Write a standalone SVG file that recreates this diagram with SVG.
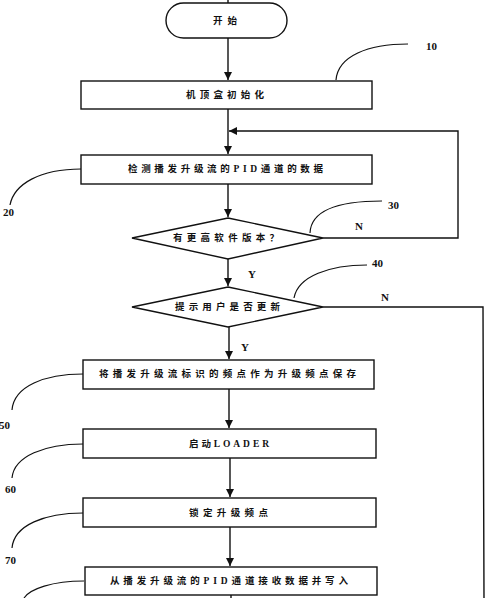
<svg xmlns="http://www.w3.org/2000/svg" width="500" height="598" viewBox="0 0 500 598">
<defs>
<marker id="arr" markerWidth="8" markerHeight="8" refX="8" refY="4" orient="auto" markerUnits="userSpaceOnUse">
<path d="M0,0 L8,4 L0,8 Z" fill="#111"/>
</marker>
<style>
.box{fill:#fff;stroke:#111;stroke-width:1.4}
.ln{fill:none;stroke:#111;stroke-width:1.4}
.cv{fill:none;stroke:#111;stroke-width:1.2}
.t{font-family:"Liberation Serif","Noto Sans CJK SC",serif;font-weight:bold;font-size:9.5px;fill:#111;dominant-baseline:central}
.n{font-family:"Liberation Serif",serif;font-weight:bold;font-size:11px;fill:#111;dominant-baseline:central}
</style>
</defs>
<rect width="500" height="598" fill="#fff"/>
<g id="connectors">
<line class="ln" x1="228" y1="0" x2="228" y2="3"/>
<line class="ln" x1="228" y1="38" x2="228" y2="80" marker-end="url(#arr)"/>
<line class="ln" x1="228" y1="109" x2="228" y2="154" marker-end="url(#arr)"/>
<polyline class="ln" points="323,238 458,238 458,131 229,131" marker-end="url(#arr)"/>
<line class="ln" x1="228" y1="184" x2="228" y2="217" marker-end="url(#arr)"/>
<line class="ln" x1="228" y1="259" x2="228" y2="286" marker-end="url(#arr)"/>
<polyline class="ln" points="323,307 483,307 484,598"/>
<line class="ln" x1="229" y1="327" x2="229" y2="359" marker-end="url(#arr)"/>
<line class="ln" x1="229" y1="389" x2="229" y2="428" marker-end="url(#arr)"/>
<line class="ln" x1="230" y1="458" x2="230" y2="497" marker-end="url(#arr)"/>
<line class="ln" x1="230" y1="527" x2="230" y2="566" marker-end="url(#arr)"/>
<line class="ln" x1="231" y1="595" x2="231" y2="598"/>
<text class="n" x="359" y="226" text-anchor="middle">N</text>
<text class="n" x="252" y="274" text-anchor="middle">Y</text>
<text class="n" x="385" y="297" text-anchor="middle">N</text>
<text class="n" x="245" y="347" text-anchor="middle">Y</text>
</g>
<g id="callouts">
<path class="cv" d="M336,80 C338,56 368,44 408,44"/>
<text class="n" x="426" y="46">10</text>
<path class="cv" d="M81,169 C40,169 14,184 10,205"/>
<text class="n" x="3" y="212">20</text>
<path class="cv" d="M310,233 C311,209 340,201 382,201"/>
<text class="n" x="388" y="205">30</text>
<path class="cv" d="M294,298 C298,276 330,265 367,265"/>
<text class="n" x="372" y="263">40</text>
<path class="cv" d="M83,374 C45,374 14,386 12,410"/>
<text class="n" x="-1" y="425">50</text>
<path class="cv" d="M83,444 C45,444 14,456 12,478"/>
<text class="n" x="5" y="489">60</text>
<path class="cv" d="M83,513 C45,513 14,525 12,548"/>
<text class="n" x="5" y="560">70</text>
<path class="cv" d="M84,581 C52,581 30,589 24,598"/>
</g>
<g id="start">
<rect class="box" x="166" y="3" width="121" height="35" rx="17.5"/>
<text class="t" x="213" y="21" textLength="24" lengthAdjust="spacing">开始</text>
</g>
<g id="n10">
<rect class="box" x="81" y="81" width="291" height="28"/>
<text class="t" x="186" y="95" textLength="78" lengthAdjust="spacing">机顶盒初始化</text>
</g>
<g id="n20">
<rect class="box" x="81" y="155" width="291" height="29"/>
<text class="t" x="128" y="169" textLength="195" lengthAdjust="spacing">检测播发升级流的PID通道的数据</text>
</g>
<g id="n30">
<polygon class="box" points="228,218 323,238 228,259 132,238"/>
<text class="t" x="173" y="238" textLength="106" lengthAdjust="spacing">有更高软件版本？</text>
</g>
<g id="n40">
<polygon class="box" points="228,287 323,307 228,327 132,307"/>
<text class="t" x="175" y="307" textLength="105" lengthAdjust="spacing">提示用户是否更新</text>
</g>
<g id="n50">
<rect class="box" x="83" y="360" width="291" height="29"/>
<text class="t" x="99" y="374" textLength="257" lengthAdjust="spacing">将播发升级流标识的频点作为升级频点保存</text>
</g>
<g id="n60">
<rect class="box" x="83" y="429" width="293" height="29"/>
<text class="t" x="189" y="444" textLength="80" lengthAdjust="spacing">启动LOADER</text>
</g>
<g id="n70">
<rect class="box" x="83" y="498" width="293" height="29"/>
<text class="t" x="189" y="513" textLength="79" lengthAdjust="spacing">锁定升级频点</text>
</g>
<g id="n80">
<rect class="box" x="85" y="567" width="292" height="28"/>
<text class="t" x="110" y="581" textLength="238" lengthAdjust="spacing">从播发升级流的PID通道接收数据并写入</text>
</g>
</svg>
